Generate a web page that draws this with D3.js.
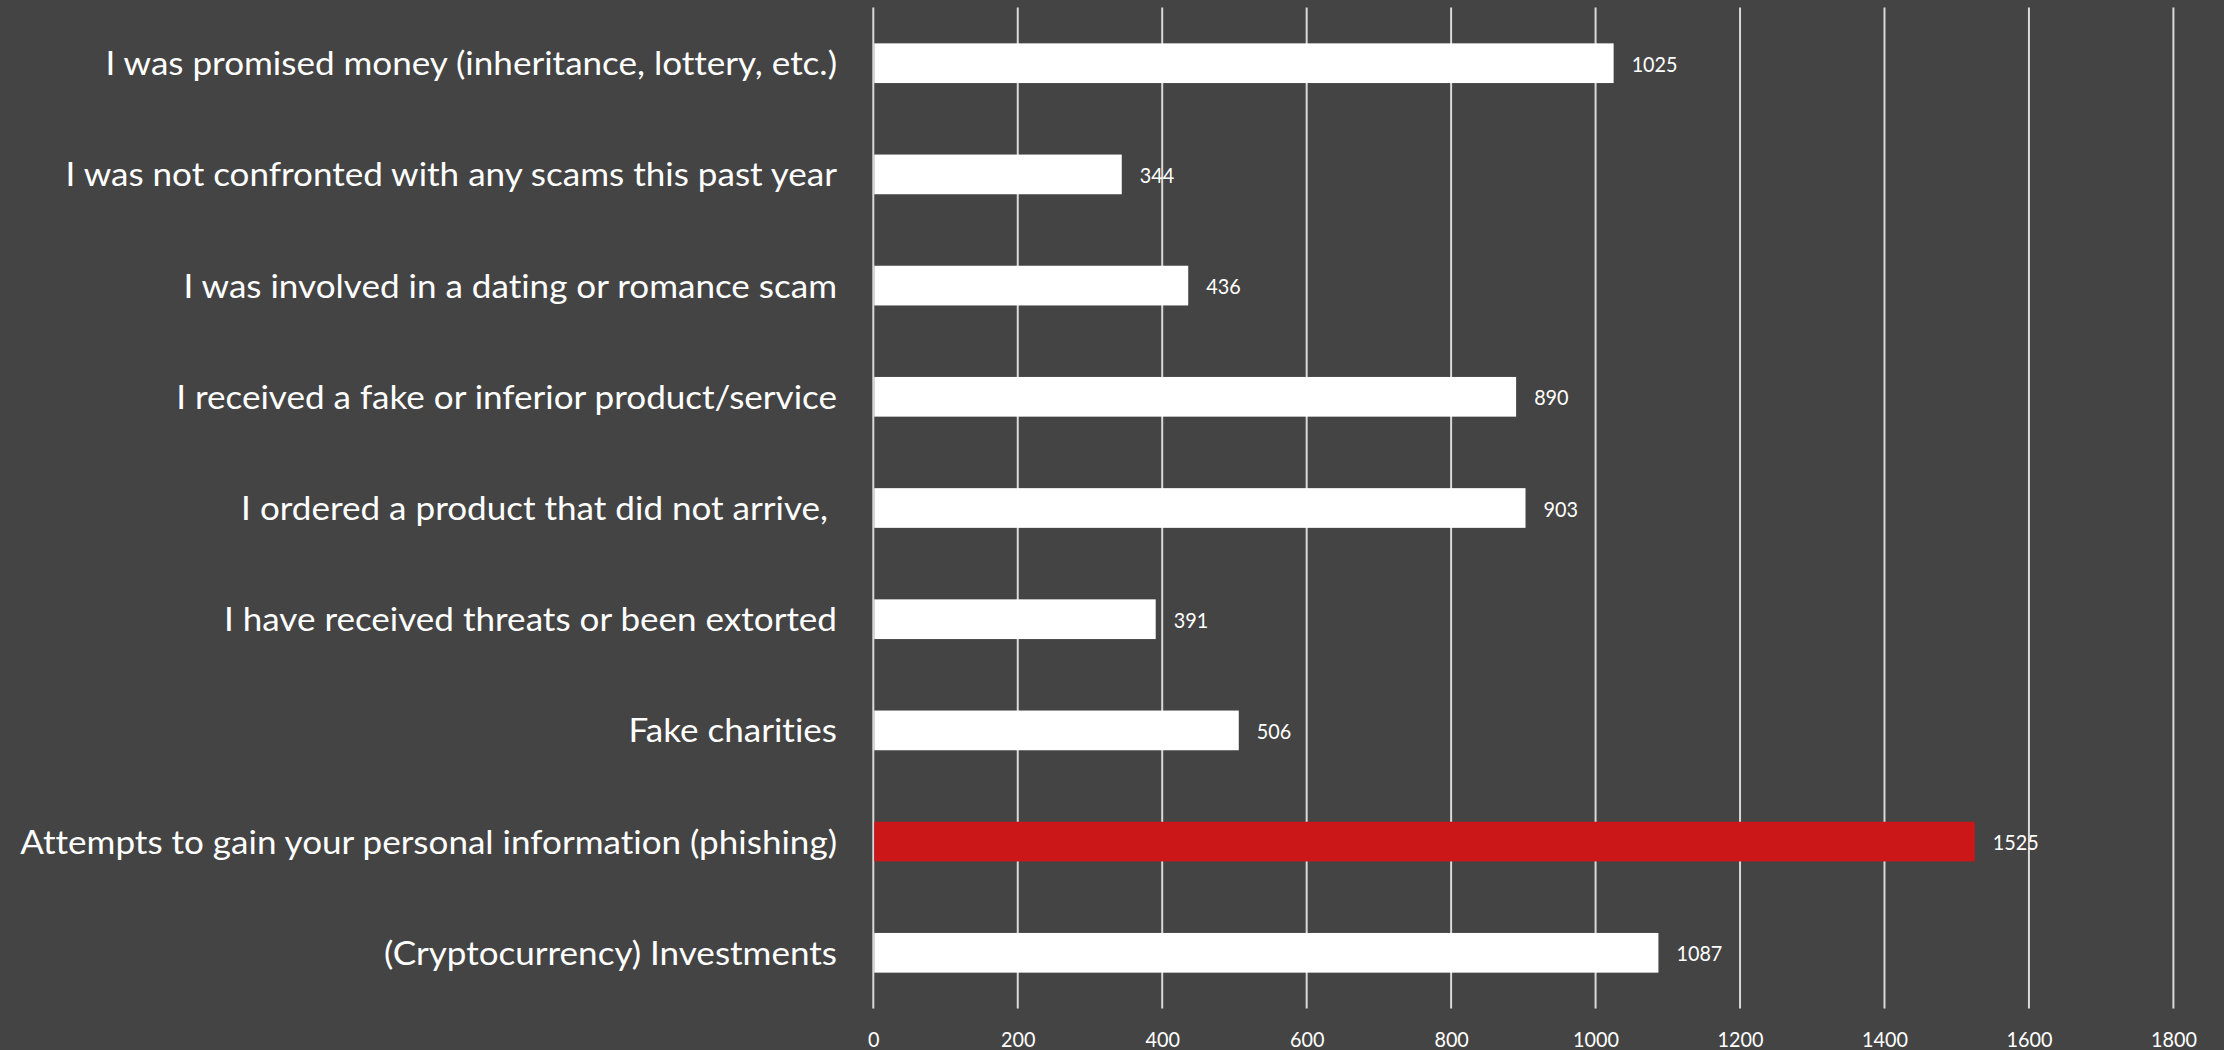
<!DOCTYPE html>
<html>
<head>
<meta charset="utf-8">
<script src="https://cdn.jsdelivr.net/npm/d3@7"></script>
<style>
  html, body { margin: 0; padding: 0; background: #444444; }
  svg { display: block; }
  text {
    font-family: Lato, "Open Sans", "Noto Sans", sans-serif;
    fill: #ffffff;
    white-space: pre;
    font-variant-ligatures: none;
    font-feature-settings: "liga" 0, "clig" 0;
  }
</style>
</head>
<body>
<svg id="chart" width="2224" height="1050"></svg>
<script>
// Scam types reported, top to bottom
const categories = [
  "I was promised money (inheritance, lottery, etc.)",
  "I was not confronted with any scams this past year",
  "I was involved in a dating or romance scam",
  "I received a fake or inferior product/service",
  "I ordered a product that did not arrive, ",
  "I have received threats or been extorted",
  "Fake charities",
  "Attempts to gain your personal information (phishing)",
  "(Cryptocurrency) Investments"
];
const values = [1025, 344, 436, 890, 903, 391, 506, 1525, 1087];
const tickValues = [0, 200, 400, 600, 800, 1000, 1200, 1400, 1600, 1800];
const highlighted = "Attempts to gain your personal information (phishing)";

const W = 2224, H = 1050;
const plot = { left: 873.3, right: 2173.4, top: 7.6, bottom: 1008.4 };

const svg = d3.select("#chart");
svg.append("rect").attr("width", W).attr("height", H).attr("fill", "#444444");

const x = d3.scaleLinear().domain([0, 1800]).range([plot.left, plot.right]);
const y = d3.scaleBand()
  .domain(categories)
  .range([plot.top, plot.bottom])
  .paddingInner(0.643)
  .paddingOuter(0.3215);

// Vertical gridlines (the one at 0 doubles as the category axis line)
svg.append("g")
  .selectAll("line")
  .data(tickValues)
  .join("line")
  .attr("x1", d => x(d)).attr("x2", d => x(d))
  .attr("y1", plot.top).attr("y2", plot.bottom)
  .attr("stroke", "#d9d9d9")
  .attr("stroke-width", 2);

// Bars
svg.append("g")
  .selectAll("rect")
  .data(categories)
  .join("rect")
  .attr("x", x(0) + 1)
  .attr("y", d => y(d))
  .attr("width", (d, i) => x(values[i]) - x(0) - 1)
  .attr("height", y.bandwidth())
  .attr("fill", d => d === highlighted ? "#cc1719" : "#ffffff");

// Squeeze text horizontally so the face keeps narrow proportions
function fitScale(fontSize, sample, targetWidth) {
  const t = svg.append("text").attr("font-size", fontSize).text(sample);
  const w = t.node().getComputedTextLength();
  t.remove();
  return targetWidth / w;
}

// Category labels
const catSize = 33;
const catK = fitScale(catSize, "Attempts to gain your personal information (phishing)", 817);
svg.append("g")
  .selectAll("text")
  .data(categories)
  .join("text")
  .attr("font-size", catSize)
  .attr("text-anchor", "end")
  .attr("transform", d => `translate(837,${y(d) + y.bandwidth() / 2 + 12}) scale(${catK},1)`)
  .text(d => d);

// Value labels
const numSize = 21.5;
const numK = Math.min(1, fitScale(numSize, "1025", 46));
svg.append("g")
  .selectAll("text")
  .data(categories)
  .join("text")
  .attr("font-size", numSize)
  .attr("text-anchor", "start")
  .attr("transform", (d, i) => `translate(${x(values[i]) + 18},${y(d) + y.bandwidth() / 2 + 8.5}) scale(${numK},1)`)
  .text((d, i) => values[i]);

// Value axis tick labels
const xAxis = d3.axisBottom(x)
  .tickValues(tickValues)
  .tickFormat(d3.format("d"))
  .tickSize(0)
  .tickPadding(0);
const gx = svg.append("g").attr("transform", `translate(0,${plot.bottom})`).call(xAxis);
gx.select(".domain").remove();
gx.selectAll(".tick text")
  .attr("font-size", numSize)
  .attr("font-family", null)
  .attr("fill", "#ffffff")
  .attr("text-anchor", "middle")
  .attr("dy", null)
  .attr("y", 0)
  .attr("transform", `translate(0,${1047 - plot.bottom}) scale(${numK},1)`);
</script>
</body>
</html>
